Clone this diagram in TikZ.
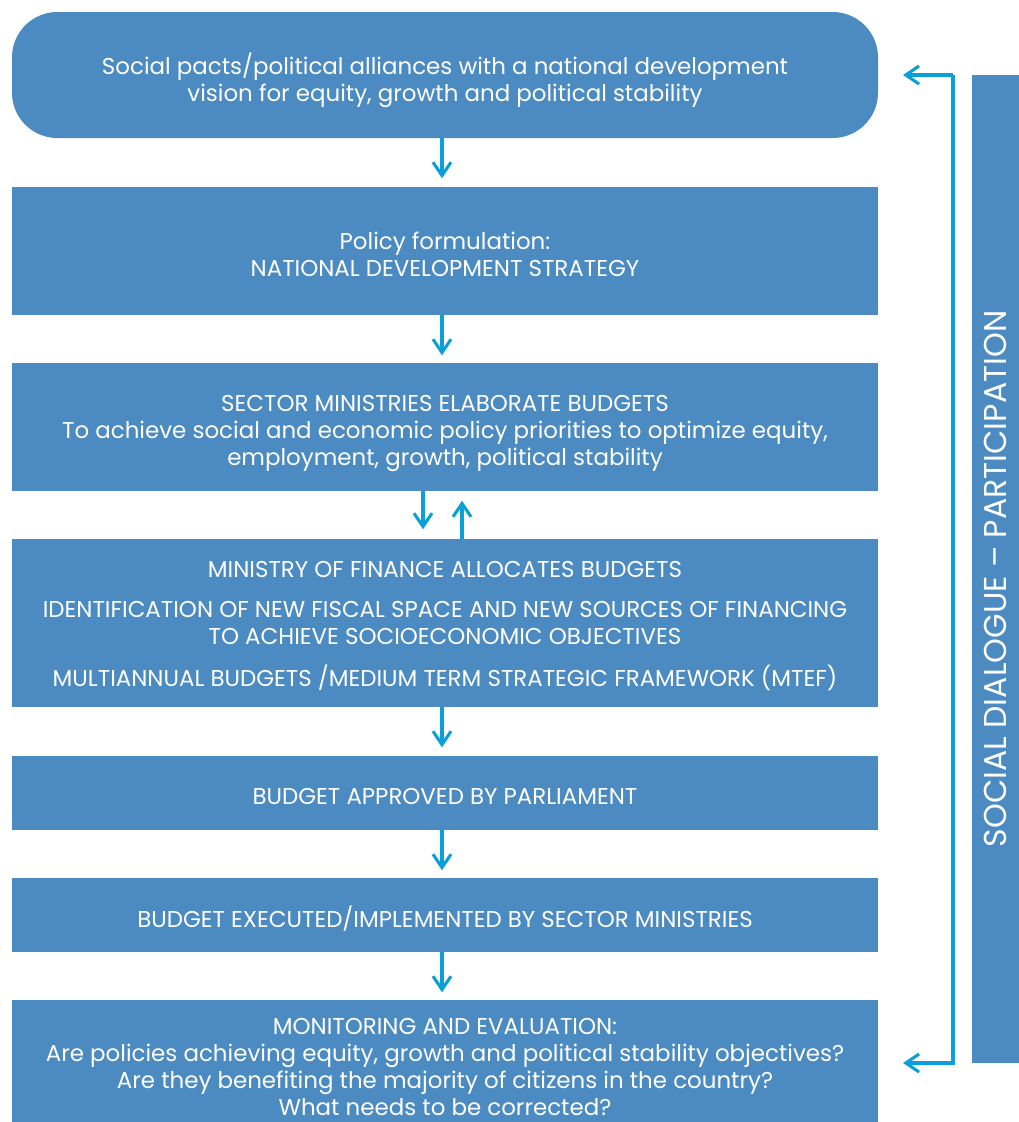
\documentclass[tikz,border=0pt]{standalone}
\usepackage{fontspec}
\setmainfont{Poppins}
\usetikzlibrary{arrows.meta}
\definecolor{boxblue}{HTML}{4B8BC2}
\definecolor{arrowblue}{HTML}{0B9FD9}
\tikzset{
	stage/.style={fill=boxblue,inner sep=0pt,minimum width=649.5pt},
	stagetext/.style={text=white,align=center,inner sep=0pt,font=\fontsize{17.2}{20.3}\selectfont},
	flow/.style={draw=arrowblue,line width=2.3pt,-{Straight Barb[length=10pt,width=13.5pt,line width=2.3pt]}}
}
\begin{document}
\begin{tikzpicture}[x=0.75pt,y=-0.75pt]
	\useasboundingbox (0,0) rectangle (1019,1122);
	% the boxes
	\node[stage,rounded corners=34pt,minimum height=94.5pt] (pact) at (445,75) {};
	\node[stage,minimum height=96pt] (policy) at (445,251) {};
	\node[stage,minimum height=96pt] (sector) at (445,427) {};
	\node[stage,minimum height=126pt] (finance) at (445,623) {};
	\node[stage,minimum height=55.5pt] (approved) at (445,793) {};
	\node[stage,minimum height=55.5pt] (executed) at (445,915) {};
	\node[stage,minimum height=91.5pt] (monitor) at (445,1061) {};
	\node[fill=boxblue,inner sep=0pt,minimum width=741pt,minimum height=35.25pt,rotate=90] (dialogue) at (995.5,569) {};
	% their texts
	\node[stagetext] (pact-t) at ([yshift=-3.75pt]pact.center) {Social pacts/political alliances with a national development\\vision for equity, growth and political stability};
	\node[stagetext] (policy-t) at ([yshift=-2.5pt]policy.center) {Policy formulation:\\NATIONAL DEVELOPMENT STRATEGY};
	\node[stagetext] (sector-t) at ([yshift=-5pt]sector.center) {SECTOR MINISTRIES ELABORATE BUDGETS\\To achieve social and economic policy priorities to optimize equity,\\employment, growth, political stability};
	\node[stagetext] (finance-t) at ([yshift=-2.5pt]finance.center) {MINISTRY OF FINANCE ALLOCATES BUDGETS\\[9.75pt]IDENTIFICATION OF NEW FISCAL SPACE AND NEW SOURCES OF FINANCING\\TO ACHIEVE SOCIOECONOMIC OBJECTIVES\\[11.25pt]MULTIANNUAL BUDGETS /MEDIUM TERM STRATEGIC FRAMEWORK (MTEF)};
	\node[stagetext] (approved-t) at ([yshift=-2.5pt]approved.center) {BUDGET APPROVED BY PARLIAMENT};
	\node[stagetext] (executed-t) at ([yshift=-2.5pt]executed.center) {BUDGET EXECUTED/IMPLEMENTED BY SECTOR MINISTRIES};
	\node[stagetext] (monitor-t) at ([yshift=-4.25pt]monitor.center) {MONITORING AND EVALUATION:\\Are policies achieving equity, growth and political stability objectives?\\Are they benefiting the majority of citizens in the country?\\What needs to be corrected?};
	\node[text=white,inner sep=0pt,rotate=90,font=\fontsize{23.7}{26}\selectfont] (dialogue-t) at ([yshift=-7.5pt]dialogue.center) {SOCIAL DIALOGUE -- PARTICIPATION};
	% arrows down the chain
	\draw[flow] (pact.south -| 442,0) -- +(0,40);
	\draw[flow] (policy.south -| 442,0) -- +(0,40);
	\draw[flow] (sector.south -| 423,0) -- +(0,38);
	\draw[flow] (finance.north -| 462,0) -- +(0,-38);
	\draw[flow] (finance.south -| 442,0) -- +(0,40);
	\draw[flow] (approved.south -| 442,0) -- +(0,40);
	\draw[flow] (executed.south -| 442,0) -- +(0,40);
	% feedback bracket
	\coordinate (fbtop) at (953,75);
	\coordinate (fbbot) at (953,1063);
	\draw[flow] (fbtop) -- (fbbot) -- (903,1063);
	\draw[flow] (fbtop) -- (903,75);
\end{tikzpicture}
\end{document}
